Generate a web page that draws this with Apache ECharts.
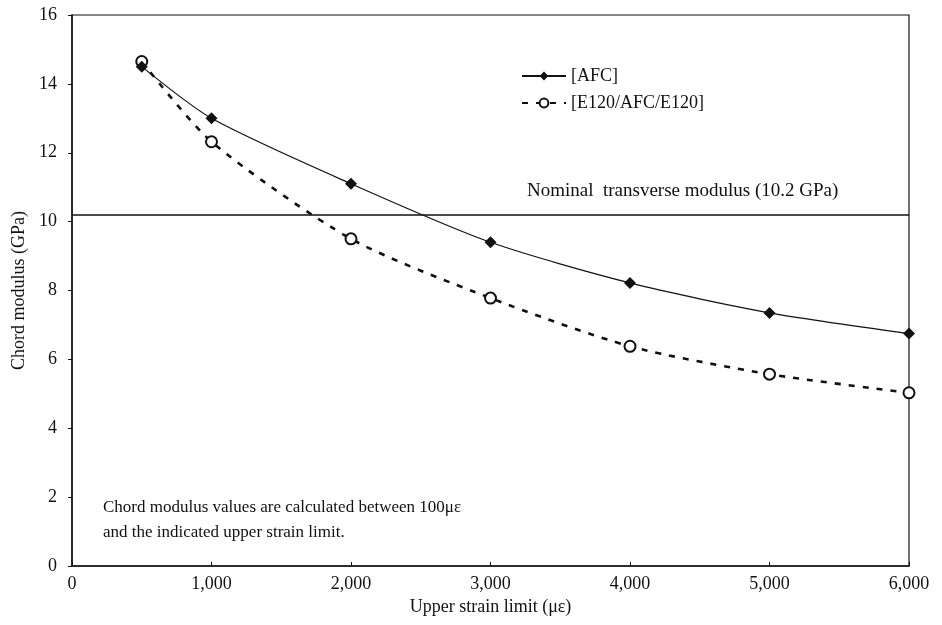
<!DOCTYPE html>
<html>
<head>
<meta charset="utf-8">
<script src="https://cdn.jsdelivr.net/npm/echarts@6/dist/echarts.min.js"></script>
<style>
  html, body { margin: 0; padding: 0; background: #fff; }
  #chart { width: 942px; height: 625px; }
</style>
</head>
<body>
<div id="chart"></div>
<script>
// Upper strain limits (microstrain)
const strainLimits = [500, 1000, 2000, 3000, 4000, 5000, 6000];
// Chord modulus (GPa) for each laminate
const afcModulus = [14.5, 13.0, 11.1, 9.4, 8.22, 7.35, 6.75];
const e120Modulus = [14.65, 12.32, 9.5, 7.78, 6.38, 5.57, 5.03];
// Nominal transverse modulus reference (GPa)
const nominalModulus = 10.2;

const seriesNames = ['[AFC]', '[E120/AFC/E120]'];
const FONT = '"Liberation Serif", "DejaVu Serif", serif';

const pairs = (xs, ys) => xs.map((x, i) => [x, ys[i]]);

const chart = echarts.init(document.getElementById('chart'));
chart.setOption({
  animation: false,
  backgroundColor: '#ffffff',
  textStyle: { fontFamily: FONT, color: '#111' },
  grid: {
    left: 72, right: 33, top: 15, bottom: 59,
    show: true, borderColor: '#111', borderWidth: 1.2
  },
  legend: {
    orient: 'vertical',
    left: 516, top: 62,
    itemWidth: 44, itemHeight: 11, itemGap: 9,
    textStyle: { fontFamily: FONT, fontSize: 18, color: '#111' },
    data: seriesNames
  },
  xAxis: {
    type: 'value',
    min: 0, max: 6000, interval: 1000,
    name: 'Upper strain limit (\u03BC\u03B5)',
    nameLocation: 'middle', nameGap: 30,
    nameTextStyle: { fontFamily: FONT, fontSize: 18, color: '#111' },
    axisLine: { lineStyle: { color: '#111', width: 1.5 } },
    axisTick: { inside: true, length: 4, lineStyle: { color: '#111' } },
    axisLabel: {
      margin: 9, fontFamily: FONT, fontSize: 18, color: '#111',
      formatter: v => v.toLocaleString('en-US')
    },
    splitLine: { show: false }
  },
  yAxis: {
    type: 'value',
    min: 0, max: 16, interval: 2,
    name: 'Chord modulus (GPa)',
    nameLocation: 'middle', nameGap: 44,
    nameTextStyle: { fontFamily: FONT, fontSize: 18, color: '#111' },
    axisLine: { lineStyle: { color: '#111', width: 1.5 } },
    axisTick: { length: 4, lineStyle: { color: '#111' } },
    axisLabel: { margin: 15, fontFamily: FONT, fontSize: 18, color: '#111' },
    splitLine: { show: false }
  },
  series: [
    {
      name: seriesNames[0],
      type: 'line',
      data: pairs(strainLimits, afcModulus),
      smooth: 0.25,
      symbol: 'diamond', symbolSize: 12,
      itemStyle: { color: '#111' },
      lineStyle: { color: '#111', width: 1.2 },
      markLine: {
        silent: true,
        symbol: ['none', 'none'],
        lineStyle: { color: '#111', width: 1.6, type: 'solid' },
        label: { show: false },
        data: [{ yAxis: nominalModulus }]
      },
      z: 3
    },
    {
      name: seriesNames[1],
      type: 'line',
      data: pairs(strainLimits, e120Modulus),
      smooth: 0.25,
      symbol: 'emptyCircle', symbolSize: 11,
      itemStyle: { color: '#111', borderWidth: 1.3 },
      lineStyle: { color: '#111', width: 2.6, type: [6, 8] },
      z: 2
    }
  ],
  graphic: [
    {
      type: 'text', left: 527, top: 182,
      style: {
        text: 'Nominal  transverse modulus (' + nominalModulus + ' GPa)',
        font: '19px ' + FONT, fill: '#111'
      }
    },
    {
      type: 'text', left: 103, top: 495,
      style: {
        text: 'Chord modulus values are calculated between 100\u03BC\u03B5\nand the indicated upper strain limit.',
        font: '17px ' + FONT, fill: '#111', lineHeight: 25
      }
    }
  ]
});
</script>
</body>
</html>
